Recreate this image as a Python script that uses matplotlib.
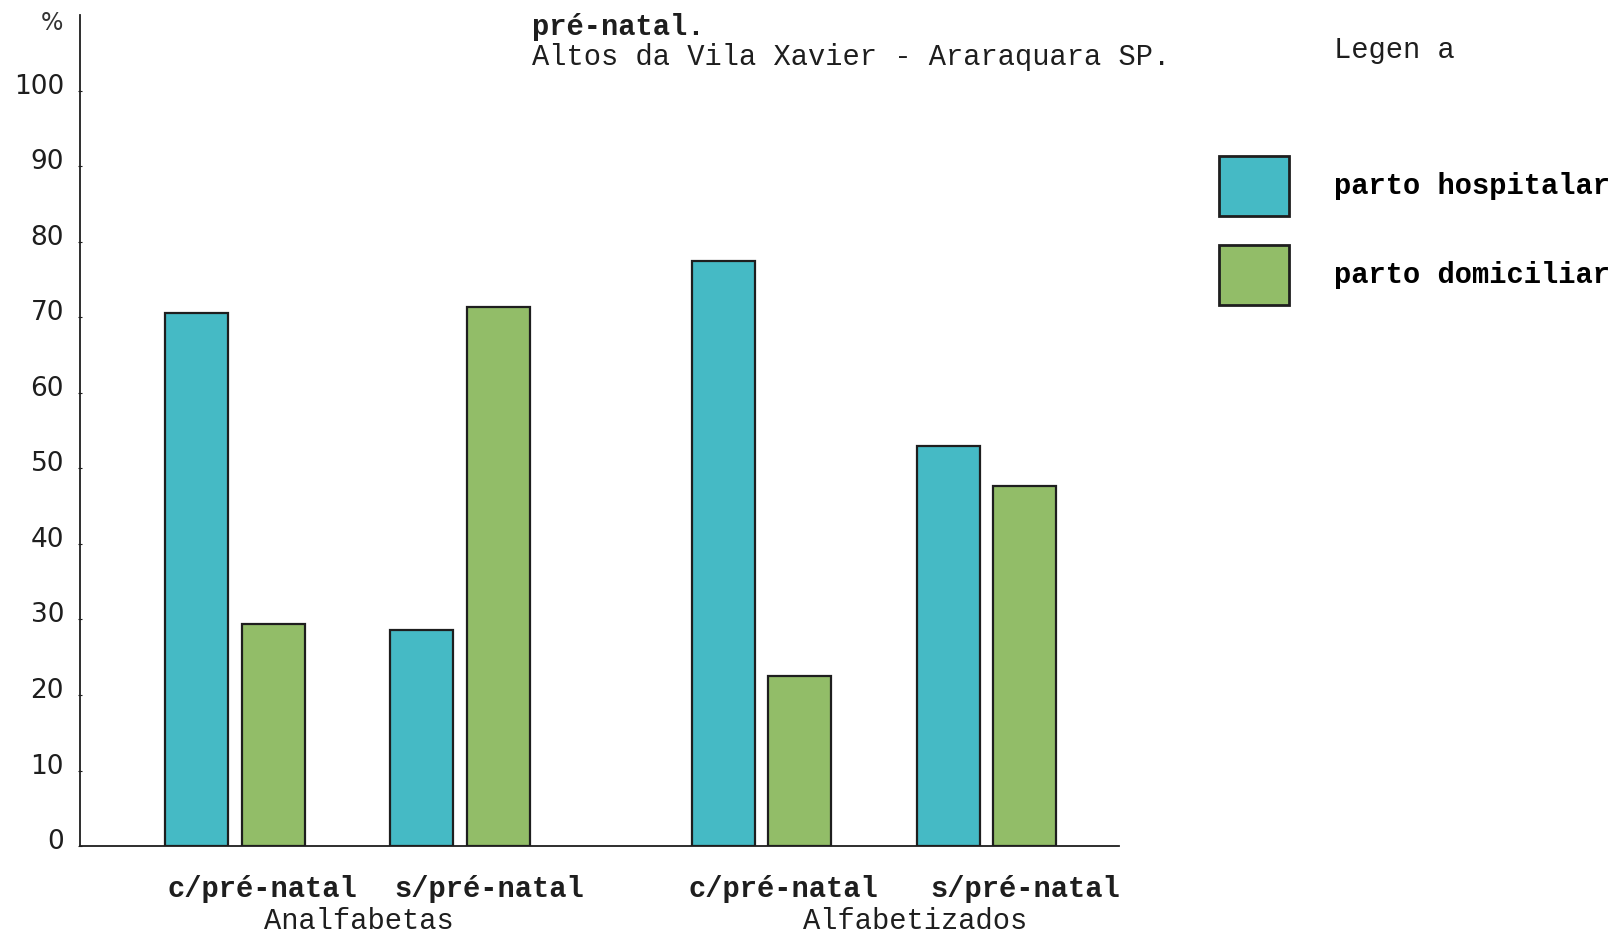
import matplotlib.pyplot as plt
import matplotlib.transforms as mtransforms
from matplotlib.patches import Patch

# data
groups = ["Analfabetas", "Alfabetizados"]
subgroups = ["c/pré-natal", "s/pré-natal", "c/pré-natal", "s/pré-natal"]
hospitalar = [70.6, 28.6, 77.5, 53.0]
domiciliar = [29.4, 71.4, 22.5, 47.7]
y_ticks = [0, 10, 20, 30, 40, 50, 60, 70, 80, 90, 100]

TEAL = "#45bac5"
GREEN = "#92bd68"
INK = "#1e1e1e"
MONO = "Liberation Mono"
FS = 20.7

# pair centres (pairs inside a group 1 apart, groups further apart)
pos = [0.0, 1.0, 2.34, 3.34]
off = 0.17
w = 0.28
# typed labels are not quite centred under their pairs
sub_nudge = [0.12, 0.13, 0.095, 0.17]
grp_nudge = [0.05, 0.18]

fig = plt.figure(figsize=(16.13, 9.34), dpi=100)
ax = fig.add_axes([0.0496, 0.094, 0.6444, 0.890])

ax.bar([p - off for p in pos], hospitalar, width=w, color=TEAL,
       edgecolor=INK, linewidth=1.6)
ax.bar([p + off for p in pos], domiciliar, width=w, color=GREEN,
       edgecolor=INK, linewidth=1.6)

ax.set_xlim(-0.69, 3.93)
ax.set_ylim(0, 110)
ax.spines["top"].set_visible(False)
ax.spines["right"].set_visible(False)
for s in ("left", "bottom"):
    ax.spines[s].set_color(INK)
    ax.spines[s].set_linewidth(1.3)

ax.set_yticks(y_ticks)
ax.set_yticklabels([str(v) for v in y_ticks], fontsize=19, color="#333333")
ax.tick_params(axis="y", length=3, direction="inout", pad=10, colors=INK)
ax.tick_params(axis="x", length=0)
ax.set_xticks([])
# the hand-written numbers sit a little above their ticks
lift = mtransforms.ScaledTranslation(0, 0.07, fig.dpi_scale_trans)
for lab in ax.get_yticklabels():
    lab.set_transform(lab.get_transform() + lift)

# sub labels and group labels under the axis
for p, n, lab in zip(pos, sub_nudge, subgroups):
    ax.text(p + n, -5.6, lab, ha="center", va="center", fontsize=FS,
            family=MONO, fontweight="bold", color=INK)
grp_x = [(pos[0] + pos[1]) / 2, (pos[2] + pos[3]) / 2]
for x, n, lab in zip(grp_x, grp_nudge, groups):
    ax.text(x + n, -9.9, lab, ha="center", va="center", fontsize=FS,
            family=MONO, color=INK)

fig.text(0.032, 0.975, "%", fontsize=17, ha="center", va="center", color="#333333")

# title fragment (first line is cut off in the scan)
fig.text(0.330, 0.971, "pré-natal.", fontsize=FS, family=MONO,
         fontweight="bold", color=INK, va="center")
fig.text(0.330, 0.939, "Altos da Vila Xavier - Araraquara SP.", fontsize=FS,
         family=MONO, color=INK, va="center")

fig.text(0.827, 0.946, "Legen a", fontsize=FS, family=MONO, color=INK, va="center")

handles = [Patch(facecolor=TEAL, edgecolor=INK, linewidth=2),
           Patch(facecolor=GREEN, edgecolor=INK, linewidth=2)]
fig.legend(handles, ["parto hospitalar", "parto domiciliar"],
           loc="upper left", bbox_to_anchor=(0.756, 0.833), frameon=False,
           borderpad=0, borderaxespad=0, handlelength=2.43, handleheight=2.83,
           handletextpad=1.57, labelspacing=1.0,
           prop={"family": MONO, "size": FS, "weight": "bold"})

fig.savefig("out.png", dpi=100, facecolor="white")
